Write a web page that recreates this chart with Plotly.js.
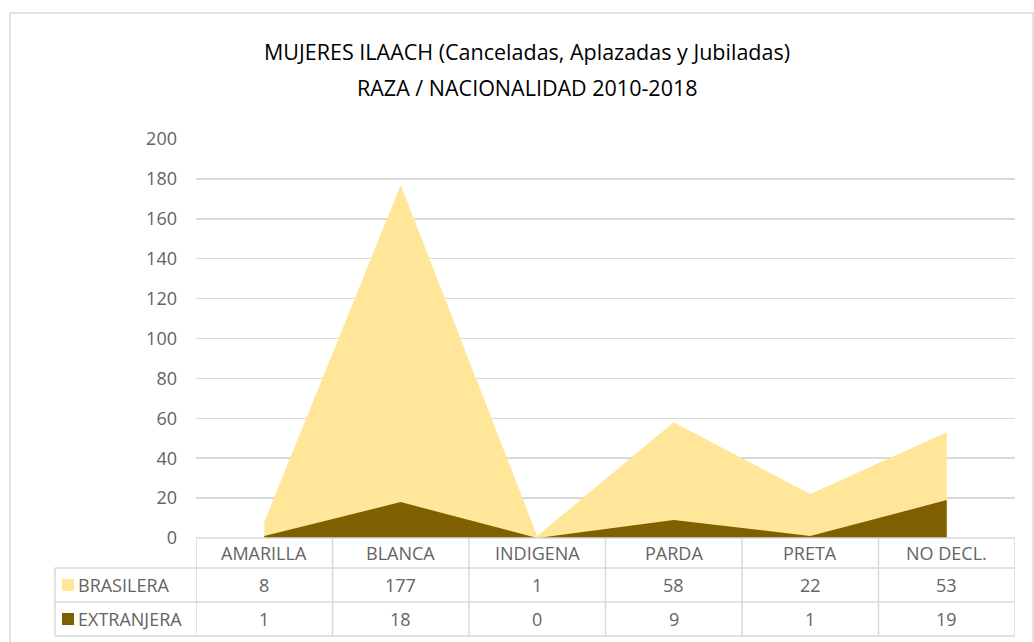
<!DOCTYPE html>
<html>
<head>
<meta charset="utf-8">
<script src="https://cdn.plot.ly/plotly-3.0.1.min.js"></script>
<style>html,body{margin:0;padding:0;background:#fff;}#chart{width:1034px;height:642px;}</style>
</head>
<body>
<div id="chart"></div>
<script>
const categories = ["AMARILLA", "BLANCA", "INDIGENA", "PARDA", "PRETA", "NO DECL."];
const seriesNames = ["BRASILERA", "EXTRANJERA"];
const brasilera = [8, 177, 1, 58, 22, 53];
const extranjera = [1, 18, 0, 9, 1, 19];
const titleLines = ["MUJERES ILAACH (Canceladas, Aplazadas y Jubiladas)", "RAZA / NACIONALIDAD 2010-2018"];
const yTicks = [0, 20, 40, 60, 80, 100, 120, 140, 160, 180, 200];

const colors = ["#FFE699", "#7F6000"];
const series = [brasilera, extranjera];
const textColor = "#646464";
const gridColor = "#D9D9D9";
const fontFam = "'Open Sans', 'Noto Sans', sans-serif";
const fs = 18;

// pixel geometry helpers
const L = 196, R = 1015, T = 139, B = 538;
const px2x = p => (p - L) / (R - L);
const py2y = p => (B - p) / (B - T);

const traces = series.map((vals, i) => ({
  type: "scatter",
  mode: "none",
  x: categories.map((c, k) => k),
  y: vals,
  fill: "tozeroy",
  fillcolor: colors[i],
  name: seriesNames[i],
  hoverinfo: "x+y+name"
}));

const shapes = [];
const annotations = [];
const line = (x0, y0, x1, y1, xref) => shapes.push({
  type: "line", xref: xref || "paper", yref: "paper",
  x0, y0, x1, y1, line: {color: gridColor, width: 1.5}, layer: "above"
});

// outer frame
shapes.push({type: "rect", xref: "paper", yref: "paper",
  x0: px2x(10), x1: px2x(1033), y0: py2y(660), y1: py2y(13),
  line: {color: gridColor, width: 1.5}, fillcolor: "rgba(0,0,0,0)", layer: "below"});

// table lines
const rowY = [538, 568, 602, 636].map(py2y);
line(px2x(L), rowY[0], px2x(R), rowY[0]);
line(px2x(55), rowY[1], px2x(R), rowY[1]);
line(px2x(55), rowY[2], px2x(R), rowY[2]);
line(px2x(55), rowY[3], px2x(R), rowY[3]);
line(px2x(55), rowY[1], px2x(55), rowY[3]);
for (let k = 0; k <= categories.length; k++) {
  shapes.push({type: "line", xref: "x", yref: "paper", x0: k - 0.5, x1: k - 0.5,
    y0: rowY[0], y1: rowY[3], line: {color: gridColor, width: 1.5}, layer: "above"});
}

const rowC = [553, 585, 619].map(py2y);
categories.forEach((c, k) => {
  annotations.push({xref: "x", yref: "paper", x: k, y: rowC[0], text: c, showarrow: false,
    font: {family: fontFam, size: fs, color: textColor}, xanchor: "center", yanchor: "middle"});
  series.forEach((vals, i) => {
    annotations.push({xref: "x", yref: "paper", x: k, y: rowC[i + 1], text: String(vals[k]), showarrow: false,
      font: {family: fontFam, size: fs, color: textColor}, xanchor: "center", yanchor: "middle"});
  });
});

// legend keys in table
seriesNames.forEach((n, i) => {
  const cy = [585, 619][i];
  shapes.push({type: "rect", xref: "paper", yref: "paper",
    x0: px2x(62), x1: px2x(74), y0: py2y(cy - 6), y1: py2y(cy + 6),
    line: {width: 0}, fillcolor: colors[i], layer: "above"});
  annotations.push({xref: "paper", yref: "paper", x: px2x(76), y: rowC[i + 1], text: n, showarrow: false,
    font: {family: fontFam, size: fs, color: textColor}, xanchor: "left", yanchor: "middle"});
});

// title lines
[52, 88].forEach((py, i) => {
  annotations.push({xref: "paper", yref: "paper", x: px2x(527), y: py2y(py), text: titleLines[i], showarrow: false,
    font: {family: fontFam, size: 21.5, color: "#000000"}, xanchor: "center", yanchor: "middle"});
});

const layout = {
  width: 1034, height: 642,
  margin: {l: L, r: 1034 - R, t: T, b: 642 - B, pad: 0},
  paper_bgcolor: "#FFFFFF", plot_bgcolor: "#FFFFFF",
  showlegend: false,
  xaxis: {range: [-0.5, categories.length - 0.5], showgrid: false, zeroline: false,
    showticklabels: false, ticks: "", showline: false, fixedrange: true},
  yaxis: {range: [0, 200], tickvals: yTicks, ticktext: yTicks.map(String),
    showgrid: true, gridcolor: gridColor, gridwidth: 1.5, zeroline: false, showline: false,
    ticks: "", ticklabelstandoff: 18,
    tickfont: {family: fontFam, size: fs, color: textColor}, fixedrange: true},
  shapes, annotations
};

Plotly.newPlot("chart", traces, layout, {displayModeBar: false, staticPlot: true});
</script>
</body>
</html>
